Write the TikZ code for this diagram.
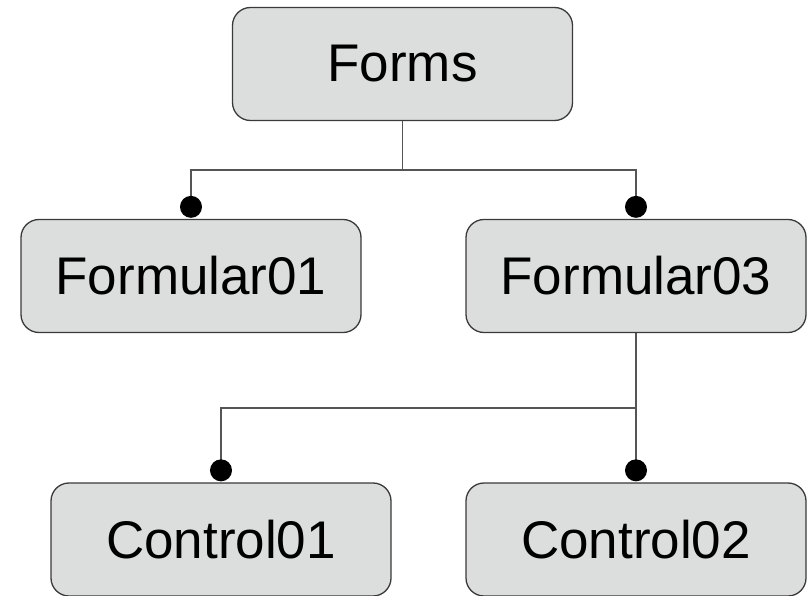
\documentclass[tikz,border=0pt]{standalone}
\usepackage{fontspec}
\setmainfont{Liberation Sans}
\usetikzlibrary{calc}
\definecolor{boxfill}{HTML}{DCDDDD}
\definecolor{boxline}{HTML}{3A3A3A}
\definecolor{conn}{HTML}{555555}
\tikzset{
  box/.style={draw=boxline, line width=1.3pt, fill=boxfill, rounded corners=18pt,
    minimum width=340pt, minimum height=113pt, inner sep=0pt,
    font=\fontsize{53}{60}\selectfont},
  link/.style={draw=conn, line width=1.3pt},
  knob/.style={fill=black}
}
\begin{document}
\begin{tikzpicture}[x=1pt,y=-1pt]
\useasboundingbox (0,0) rectangle (809,596);
\node[box] (forms) at (402.5,64) {Forms};
\node[box] (f01) at (191,276) {Formular01};
\node[box] (f03) at (636,276) {Formular03};
\node[box] (c01) at (221,539.5) {Control01};
\node[box] (c02) at (636,539.5) {Control02};
\coordinate (j1) at (402.5,170);
\coordinate (j2) at (636,408);
\coordinate (d1) at ($(f01.north)+(0,-12)$);
\coordinate (d2) at ($(f03.north)+(0,-12)$);
\coordinate (d3) at ($(c01.north)+(0,-12)$);
\coordinate (d4) at ($(c02.north)+(0,-12)$);
\draw[link] (forms.south) -- (j1);
\draw[link] (j1) -| (d1);
\draw[link] (j1) -| (d2);
\draw[link] (f03.south) -- (j2);
\draw[link] (j2) -| (d3);
\draw[link] (j2) -- (d4);
\foreach \d in {d1,d2,d3,d4} \fill[knob] (\d) circle (11pt);
\end{tikzpicture}
\end{document}
